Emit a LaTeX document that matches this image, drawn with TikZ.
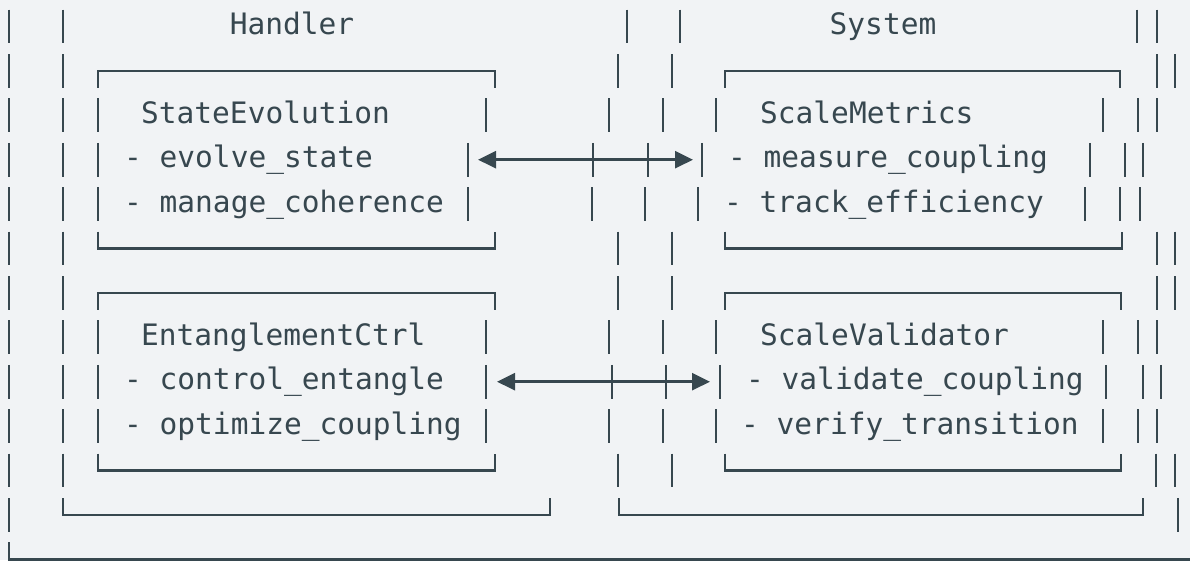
\documentclass[tikz,border=0pt]{standalone}
\usepackage{fontspec}
\setmonofont{DejaVu Sans Mono}
\usetikzlibrary{arrows.meta}
\definecolor{ink}{HTML}{37474F}
\definecolor{paper}{HTML}{F1F3F5}
\tikzset{
  bar/.style={ink, line width=2.7pt},
  rule/.style={ink, line width=2.5pt},
  lbl/.style={anchor=base west, inner sep=0pt, text=ink,
    font=\ttfamily\fontsize{29.5}{34}\selectfont},
  ttl/.style={lbl, anchor=base},
  link/.style={rule, {Triangle[length=18pt,width=17pt]}-{Triangle[length=18pt,width=17pt]}},
}
\begin{document}
\begin{tikzpicture}[x=1pt, y=-44.4pt]
\fill[paper] (0,-0.597) rectangle (1190,12.016);
\useasboundingbox (0,-0.597) rectangle (1190,12.016);

% titles
\node[ttl] (handler) at (292,0.18) {Handler};
\node[ttl] (system) at (883,0.18) {System};

% component names
\node[lbl] (stateevo) at (141,2.18) {StateEvolution};
\node[lbl] (scalemet) at (760,2.18) {ScaleMetrics};
\node[lbl] (entctrl) at (141,7.18) {EntanglementCtrl};
\node[lbl] (scaleval) at (760,7.18) {ScaleValidator};

% methods
\node[lbl] (evolve) at (124,3.18) {- evolve\_state};
\node[lbl] (manage) at (124,4.18) {- manage\_coherence};
\node[lbl] (measure) at (728,3.18) {- measure\_coupling};
\node[lbl] (track) at (724,4.18) {- track\_efficiency};
\node[lbl] (control) at (124,8.18) {- control\_entangle};
\node[lbl] (optimize) at (124,9.18) {- optimize\_coupling};
\node[lbl] (validate) at (746,8.18) {- validate\_coupling};
\node[lbl] (verify) at (741,9.18) {- verify\_transition};

% box tops and bottoms
\draw[rule] (98,1.38) |- (495,1) -- (495,1.38);
\draw[rule] (725,1.38) |- (1120,1) -- (1120,1.38);
\draw[rule] (98,4.62) |- (495,5) -- (495,4.62);
\draw[rule] (725,4.62) |- (1122,5) -- (1122,4.62);
\draw[rule] (98,6.38) |- (495,6) -- (495,6.38);
\draw[rule] (725,6.38) |- (1121,6) -- (1121,6.38);
\draw[rule] (98,9.62) |- (495,10) -- (495,9.62);
\draw[rule] (725,9.62) |- (1121,10) -- (1121,9.62);
\draw[rule] (63,10.62) |- (550,11) -- (550,10.62);
\draw[rule] (619,10.62) |- (1143,11) -- (1143,10.62);
\draw[rule] (9,11.62) |- (1190,12);

% vertical bars, row by row
\foreach \r/\xs in {
  0/{9,63,627,680,1137,1157},
  1/{9,63,618,672,1157,1175},
  2/{9,63,98,486,609,663,716,1103,1138,1157},
  3/{9,63,98,468,593,648,702,1090,1125,1143},
  4/{9,63,98,468,592,645,698,1085,1120,1140},
  5/{9,63,618,672,1157,1175},
  6/{9,63,618,672,1157,1175},
  7/{9,63,98,486,609,663,716,1103,1138,1157},
  8/{9,63,98,486,612,666,720,1106,1143,1161},
  9/{9,63,98,486,609,663,716,1103,1138,1157},
  10/{9,63,618,672,1156,1175},
  11/{9,1178}} {
  \foreach \x in \xs
    \draw[bar] (\x,\r-0.38) -- (\x,\r+0.38);
}

% links
\coordinate (seTip) at (478,3);
\coordinate (smTip) at (693,3);
\coordinate (ecTip) at (497,8);
\coordinate (svTip) at (710,8);
\draw[link] (seTip) -- (smTip);
\draw[link] (ecTip) -- (svTip);
\end{tikzpicture}
\end{document}
